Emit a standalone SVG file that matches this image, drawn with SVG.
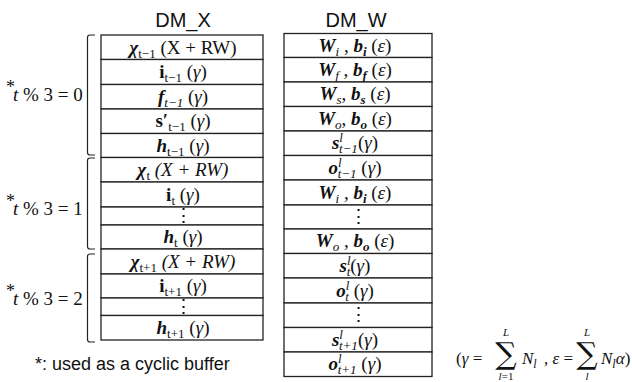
<svg xmlns="http://www.w3.org/2000/svg" width="632" height="382" viewBox="0 0 632 382">
  <style>
    .cell { fill: #fff; stroke: #222; stroke-width: 1.3; }
    .brace { fill: none; stroke: #222; stroke-width: 1.2; }
    .title { font-family: "Liberation Sans", Arial, sans-serif; font-size: 20px; fill: #111; text-anchor: middle; }
    .note { font-family: "Liberation Sans", Arial, sans-serif; font-size: 18px; fill: #111; }
    .m { font-family: "Liberation Serif", "Times New Roman", serif; font-size: 19px; fill: #111; text-anchor: middle; }
    .lbl { font-family: "Liberation Serif", "Times New Roman", serif; font-size: 19px; fill: #111; }
    .star { font-size: 18px; }
    .bi { font-weight: bold; font-style: italic; }
    .b { font-weight: bold; }
    .i { font-style: italic; }
    .s { font-size: 13px; }
    .ss { font-size: 13px; }
    .lg { font-family: "Liberation Serif", "Times New Roman", serif; font-size: 17px; fill: #111; }
    .sig { font-family: "DejaVu Serif", "Liberation Serif", serif; font-size: 30px; fill: #111; text-anchor: middle; }
    .lim { font-family: "Liberation Serif", "Times New Roman", serif; font-size: 11px; fill: #111; text-anchor: middle; }
  </style>

  <!-- column titles -->
  <text class="title" x="183" y="27">DM_X</text>
  <text class="title" x="356" y="27">DM_W</text>

  <!-- DM_X buffer -->
  <g id="dm-x">
    <g id="x-chi-t-1"><rect class="cell" x="101" y="35" width="162" height="24.5"/>
      <text class="m" x="183" y="53.5"><tspan class="bi">χ</tspan><tspan class="s" dy="4">t−1</tspan><tspan dy="-4">  (X + RW)</tspan></text></g>
    <g id="x-i-t-1"><rect class="cell" x="101" y="59.5" width="162" height="25"/>
      <text class="m" x="183" y="78"><tspan class="b">i</tspan><tspan class="s" dy="4">t−1</tspan><tspan dy="-4">  (</tspan><tspan class="i">γ</tspan>)</text></g>
    <g id="x-f-t-1"><rect class="cell" x="101" y="84.5" width="162" height="24.5"/>
      <text class="m" x="183" y="102.5"><tspan class="bi">f</tspan><tspan class="s i" dy="4">t−1</tspan><tspan dy="-4"> (</tspan><tspan class="i">γ</tspan>)</text></g>
    <g id="x-s-t-1"><rect class="cell" x="101" y="109" width="162" height="24.5"/>
      <text class="m" x="183" y="127"><tspan class="b">s′</tspan><tspan class="s" dy="4">t−1</tspan><tspan dy="-4"> (</tspan><tspan class="i">γ</tspan>)</text></g>
    <g id="x-h-t-1"><rect class="cell" x="101" y="133.5" width="162" height="24"/>
      <text class="m" x="183" y="151.5"><tspan class="bi">h</tspan><tspan class="s" dy="4">t−1</tspan><tspan dy="-4"> (</tspan><tspan class="i">γ</tspan>)</text></g>
    <g id="x-chi-t"><rect class="cell" x="101" y="157.5" width="162" height="24.5"/>
      <text class="m" x="183" y="175.5"><tspan class="bi">χ</tspan><tspan class="s" dy="4">t</tspan><tspan class="i" dy="-4">  (X + RW)</tspan></text></g>
    <g id="x-i-t"><rect class="cell" x="101" y="182" width="162" height="25"/>
      <text class="m" x="183" y="200.5"><tspan class="b">i</tspan><tspan class="s" dy="4">t</tspan><tspan dy="-4"> (</tspan><tspan class="i">γ</tspan>)</text></g>
    <g id="x-dots-t"><rect class="cell" x="101" y="207" width="162" height="18"/>
      <text class="m" x="183" y="222" font-size="16">⋮</text></g>
    <g id="x-h-t"><rect class="cell" x="101" y="225" width="162" height="24"/>
      <text class="m" x="183" y="243"><tspan class="bi">h</tspan><tspan class="s" dy="4">t</tspan><tspan dy="-4"> (</tspan><tspan class="i">γ</tspan>)</text></g>
    <g id="x-chi-t1"><rect class="cell" x="101" y="249" width="162" height="25"/>
      <text class="m" x="183" y="267.5"><tspan class="bi">χ</tspan><tspan class="s" dy="4">t+1</tspan><tspan class="i" dy="-4">  (X + RW)</tspan></text></g>
    <g id="x-i-t1"><rect class="cell" x="101" y="274" width="162" height="24"/>
      <text class="m" x="183" y="292"><tspan class="b">i</tspan><tspan class="s" dy="4">t+1</tspan><tspan dy="-4"> (</tspan><tspan class="i">γ</tspan>)</text></g>
    <g id="x-dots-t1"><rect class="cell" x="101" y="298" width="162" height="17.5"/>
      <text class="m" x="183" y="313" font-size="16">⋮</text></g>
    <g id="x-h-t1"><rect class="cell" x="101" y="315.5" width="162" height="24.5"/>
      <text class="m" x="183" y="333.5"><tspan class="bi">h</tspan><tspan class="s" dy="4">t+1</tspan><tspan dy="-4"> (</tspan><tspan class="i">γ</tspan>)</text></g>
  </g>

  <!-- DM_W buffer -->
  <g id="dm-w">
    <g id="w-i-1"><rect class="cell" x="284" y="33.5" width="148" height="24"/>
      <text class="m" x="355" y="51.5"><tspan class="bi">W</tspan><tspan class="s i" dy="4">i</tspan><tspan dy="-4"> , </tspan><tspan class="bi">b</tspan><tspan class="s bi" dy="4">i</tspan><tspan dy="-4">  (</tspan><tspan class="i">ε</tspan>)</text></g>
    <g id="w-f"><rect class="cell" x="284" y="57.5" width="148" height="24.5"/>
      <text class="m" x="355" y="75.5"><tspan class="bi">W</tspan><tspan class="s i" dy="4">f</tspan><tspan dy="-4"> , </tspan><tspan class="bi">b</tspan><tspan class="s bi" dy="4">f</tspan><tspan dy="-4">  (</tspan><tspan class="i">ε</tspan>)</text></g>
    <g id="w-s"><rect class="cell" x="284" y="82" width="148" height="24.5"/>
      <text class="m" x="355" y="100"><tspan class="bi">W</tspan><tspan class="s i" dy="4">s</tspan><tspan dy="-4">, </tspan><tspan class="bi">b</tspan><tspan class="s bi" dy="4">s</tspan><tspan dy="-4">  (</tspan><tspan class="i">ε</tspan>)</text></g>
    <g id="w-o-1"><rect class="cell" x="284" y="106.5" width="148" height="24.5"/>
      <text class="m" x="355" y="124.5"><tspan class="bi">W</tspan><tspan class="s i" dy="4">o</tspan><tspan dy="-4">, </tspan><tspan class="bi">b</tspan><tspan class="s bi" dy="4">o</tspan><tspan dy="-4">  (</tspan><tspan class="i">ε</tspan>)</text></g>
    <g id="w-s-t-1"><rect class="cell" x="284" y="131" width="148" height="24.5"/>
      <text class="m" x="355" y="149"><tspan class="bi">s</tspan><tspan class="ss i" dy="-7">l</tspan><tspan class="ss i" dx="-4" dy="11">t−1</tspan><tspan dy="-4">(</tspan><tspan class="i">γ</tspan>)</text></g>
    <g id="w-o-t-1"><rect class="cell" x="284" y="155.5" width="148" height="24.5"/>
      <text class="m" x="355" y="173.5"><tspan class="bi">o</tspan><tspan class="ss i" dy="-7">l</tspan><tspan class="ss i" dx="-4" dy="11">t−1</tspan><tspan dy="-4">  (</tspan><tspan class="i">γ</tspan>)</text></g>
    <g id="w-i-2"><rect class="cell" x="284" y="180" width="148" height="25"/>
      <text class="m" x="355" y="198.5"><tspan class="bi">W</tspan><tspan class="s i" dy="4">i</tspan><tspan dy="-4"> , </tspan><tspan class="bi">b</tspan><tspan class="s bi" dy="4">i</tspan><tspan dy="-4">  (</tspan><tspan class="i">ε</tspan>)</text></g>
    <g id="w-dots-1"><rect class="cell" x="284" y="205" width="148" height="24"/>
      <text class="m" x="358" y="223" font-size="16">⋮</text></g>
    <g id="w-o-2"><rect class="cell" x="284" y="229" width="148" height="24.5"/>
      <text class="m" x="355" y="247"><tspan class="bi">W</tspan><tspan class="s i" dy="4">o</tspan><tspan dy="-4"> , </tspan><tspan class="bi">b</tspan><tspan class="s bi" dy="4">o</tspan><tspan dy="-4">  (</tspan><tspan class="i">ε</tspan>)</text></g>
    <g id="w-s-t"><rect class="cell" x="284" y="253.5" width="148" height="24.5"/>
      <text class="m" x="355" y="271.5"><tspan class="bi">s</tspan><tspan class="ss i" dy="-7">l</tspan><tspan class="ss i" dx="-4" dy="11">t</tspan><tspan dy="-4">(</tspan><tspan class="i">γ</tspan>)</text></g>
    <g id="w-o-t"><rect class="cell" x="284" y="278" width="148" height="25"/>
      <text class="m" x="355" y="296.5"><tspan class="bi">o</tspan><tspan class="ss i" dy="-7">l</tspan><tspan class="ss i" dx="-4" dy="11">t</tspan><tspan dy="-4">  (</tspan><tspan class="i">γ</tspan>)</text></g>
    <g id="w-dots-2"><rect class="cell" x="284" y="303" width="148" height="24.5"/>
      <text class="m" x="358" y="321" font-size="16">⋮</text></g>
    <g id="w-s-t1"><rect class="cell" x="284" y="327.5" width="148" height="24.5"/>
      <text class="m" x="355" y="345.5"><tspan class="bi">s</tspan><tspan class="ss i" dy="-7">l</tspan><tspan class="ss i" dx="-4" dy="11">t+1</tspan><tspan dy="-4">(</tspan><tspan class="i">γ</tspan>)</text></g>
    <g id="w-o-t1"><rect class="cell" x="284" y="352" width="148" height="24.5"/>
      <text class="m" x="355" y="370"><tspan class="bi">o</tspan><tspan class="ss i" dy="-7">l</tspan><tspan class="ss i" dx="-4" dy="11">t+1</tspan><tspan dy="-4">  (</tspan><tspan class="i">γ</tspan>)</text></g>
  </g>

  <!-- brackets grouping the DM_X rows by t % 3 -->
  <g id="brackets">
    <path class="brace" d="M95,35 L90,35 Q87.5,35 87.5,37.5 L87.5,152.5 Q87.5,155 90,155 L95,155"/>
    <path class="brace" d="M95,158 L90,158 Q87.5,158 87.5,160.5 L87.5,246.5 Q87.5,249 90,249 L95,249"/>
    <path class="brace" d="M95,254 L90,254 Q87.5,254 87.5,256.5 L87.5,339.5 Q87.5,342 90,342 L95,342"/>
  </g>

  <!-- slot labels: starred t % 3 conditions -->
  <g id="label-0">
    <text class="lbl" x="6" y="93"><tspan class="star">*</tspan><tspan class="i" dx="-2" dy="8">t</tspan> % 3 = 0</text>
  </g>
  <g id="label-1">
    <text class="lbl" x="6" y="207"><tspan class="star">*</tspan><tspan class="i" dx="-2" dy="8">t</tspan> % 3 = 1</text>
  </g>
  <g id="label-2">
    <text class="lbl" x="6" y="297"><tspan class="star">*</tspan><tspan class="i" dx="-2" dy="8">t</tspan> % 3 = 2</text>
  </g>

  <text class="note" x="35" y="370">*: used as a cyclic buffer</text>

  <!-- size legend -->
  <g id="legend">
    <text class="lg" x="456" y="364">(<tspan class="i">γ</tspan> =</text>
    <text class="sig" x="506" y="364">∑</text>
    <text class="lim i" x="506" y="336">L</text>
    <text class="lim" x="506" y="380"><tspan class="i">l</tspan>=1</text>
    <text class="lg" x="522" y="364"><tspan class="i">N</tspan><tspan class="i" font-size="12" dy="4">l</tspan></text>
    <text class="lg" x="544" y="364">, <tspan class="i">ε</tspan> =</text>
    <text class="sig" x="587" y="364">∑</text>
    <text class="lim i" x="587" y="336">L</text>
    <text class="lim i" x="587" y="380">l</text>
    <text class="lg" x="601" y="364"><tspan class="i">N</tspan><tspan class="i" font-size="12" dy="4">l</tspan><tspan class="i" dy="-4">α</tspan>)</text>
  </g>
</svg>
